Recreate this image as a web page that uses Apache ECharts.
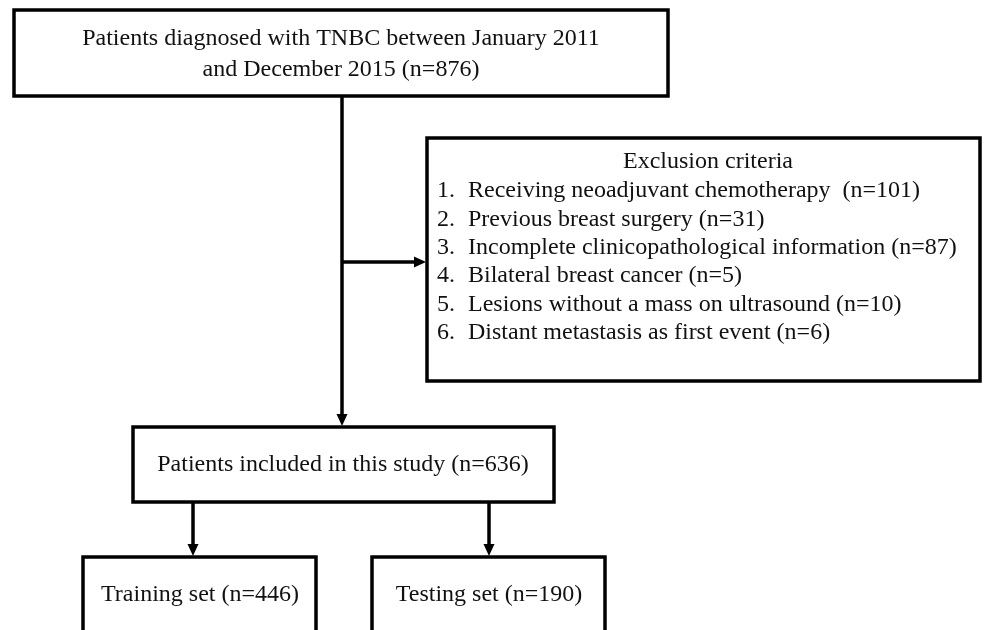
<!DOCTYPE html>
<html>
<head>
<meta charset="utf-8">
<script src="https://cdn.jsdelivr.net/npm/echarts@6/dist/echarts.min.js"></script>
<style>
html, body { margin: 0; padding: 0; background: #fff; }
#main { width: 989px; height: 630px; }
</style>
</head>
<body>
<div id="main"></div>
<script>
// 人数
var nDiagnosed = 876;
var nIncluded = 636;
var nTraining = 446;
var nTesting = 190;

// 排除标准
var exclusionTitle = 'Exclusion criteria';
var exclusionItems = [
	'Receiving neoadjuvant chemotherapy ',
	'Previous breast surgery',
	'Incomplete clinicopathological information',
	'Bilateral breast cancer',
	'Lesions without a mass on ultrasound',
	'Distant metastasis as first event'
];
var exclusionCounts = [101, 31, 87, 5, 10, 6];

var topLines = [
	'Patients diagnosed with TNBC between January 2011',
	'and December 2015 (n=' + nDiagnosed + ')'
];
var includedText = 'Patients included in this study (n=' + nIncluded + ')';
var trainingText = 'Training set (n=' + nTraining + ')';
var testingText = 'Testing set (n=' + nTesting + ')';

var FONT = '24px "Liberation Serif", "Times New Roman", serif';
var LW = 3.5;

function box(x1, y1, x2, y2) {
	return {
		type: 'rect',
		shape: { x: x1, y: y1, width: x2 - x1, height: y2 - y1 },
		style: { fill: '#fff', stroke: '#000', lineWidth: LW }
	};
}

function txt(x, y, s, align) {
	return {
		type: 'text',
		x: x,
		y: y,
		z: 10,
		style: {
			text: s,
			font: FONT,
			fill: '#111',
			align: align || 'center',
			verticalAlign: 'middle',
			textAlign: align || 'center',
			textVerticalAlign: 'middle'
		}
	};
}

function line(x1, y1, x2, y2) {
	return {
		type: 'line',
		shape: { x1: x1, y1: y1, x2: x2, y2: y2 },
		style: { stroke: '#000', lineWidth: LW }
	};
}

// 向下箭头
function arrowDown(x, y1, y2) {
	return [
		line(x, y1, x, y2 - 11),
		{
			type: 'polygon',
			shape: { points: [[x - 5.5, y2 - 12], [x + 5.5, y2 - 12], [x, y2]] },
			style: { fill: '#000' }
		}
	];
}

// 向右箭头
function arrowRight(y, x1, x2) {
	return [
		line(x1, y, x2 - 11, y),
		{
			type: 'polygon',
			shape: { points: [[x2 - 12, y - 5.5], [x2 - 12, y + 5.5], [x2, y]] },
			style: { fill: '#000' }
		}
	];
}

var elements = [];
elements.push(box(14, 10, 668, 96));
elements.push(box(427, 138, 980, 381));
elements.push(box(133, 427, 554, 502));
elements.push(box(83, 557, 316, 650));
elements.push(box(372, 557, 605, 650));

elements = elements.concat(arrowDown(342, 96, 426));
elements = elements.concat(arrowRight(262, 342, 426));
elements = elements.concat(arrowDown(193, 502, 556));
elements = elements.concat(arrowDown(489, 502, 556));

elements.push(txt(341, 39, topLines[0]));
elements.push(txt(341, 70, topLines[1]));

elements.push(txt(708, 162, exclusionTitle));
for (var i = 0; i < exclusionItems.length; i++) {
	var yy = 191 + i * 28.4;
	elements.push(txt(437, yy, (i + 1) + '.', 'left'));
	elements.push(txt(468, yy, exclusionItems[i] + ' (n=' + exclusionCounts[i] + ')', 'left'));
}

elements.push(txt(343, 465, includedText));
elements.push(txt(200, 595, trainingText));
elements.push(txt(489, 595, testingText));

var chart = echarts.init(document.getElementById('main'));
chart.setOption({
	backgroundColor: '#fff',
	animation: false,
	graphic: { elements: elements }
});
</script>
</body>
</html>
